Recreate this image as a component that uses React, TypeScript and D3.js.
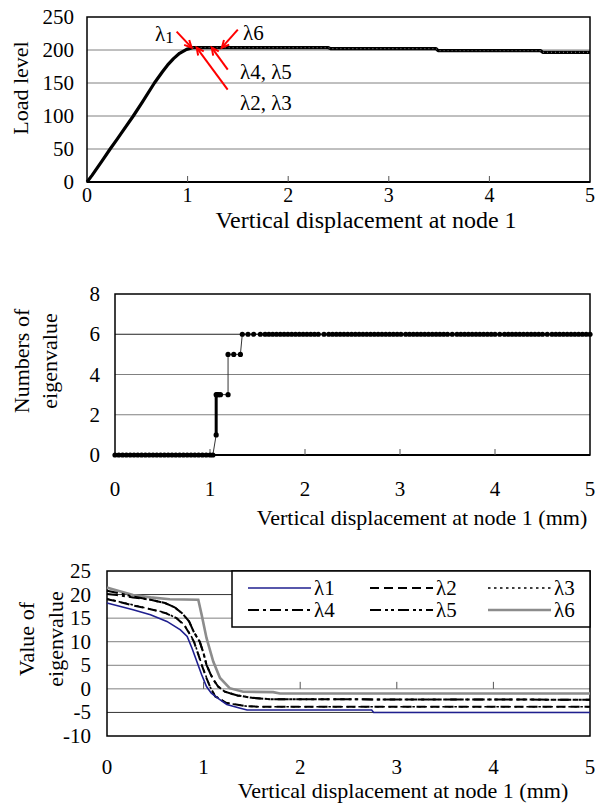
import React from 'react';
import * as d3 from 'd3';

const FONT = "'Liberation Serif', 'DejaVu Serif', 'Times New Roman', serif";

// ---------- Chart 1: load level vs displacement ----------
const loadX = [0, 0.05, 0.1, 0.15, 0.23, 0.3, 0.35, 0.46, 0.55, 0.67, 0.75, 0.8, 0.86, 0.92, 0.99, 1.05, 1.5, 2.0, 2.4, 2.42, 3.0, 3.47, 3.49, 4.0, 4.51, 4.53, 5.0];
const loadY = [0, 10, 21, 32, 50, 65, 76, 100, 121, 150, 167, 177, 187, 195, 201, 203.5, 203.5, 203.5, 203.5, 202, 202, 202, 199, 199, 199, 196.5, 196.5];
const loadTicksY = [0, 50, 100, 150, 200, 250];
const dispTicks = [0, 1, 2, 3, 4, 5];
// annotations: label, x (displacement) of arrow tip
const annLabels = ['λ1', 'λ2, λ3', 'λ4, λ5', 'λ6'];
const annTipX = [1.04, 1.09, 1.24, 1.34];

// ---------- Chart 2: number of negative eigenvalues ----------
const countX = [0, 0.04, 0.08, 0.12, 0.16, 0.2, 0.24, 0.28, 0.32, 0.36, 0.4, 0.44, 0.48, 0.52, 0.56, 0.6, 0.64, 0.68, 0.72, 0.76, 0.8, 0.84, 0.88, 0.92, 0.96, 1.0, 1.03, 1.065, 1.065, 1.075, 1.09, 1.11, 1.19, 1.19, 1.25, 1.32, 1.34, 1.4, 1.46, 1.53, 1.58, 1.62, 1.66, 1.7, 1.74, 1.78, 1.82, 1.86, 1.9, 1.94, 1.98, 2.02, 2.06, 2.1, 2.14, 2.2, 2.25, 2.29, 2.33, 2.37, 2.41, 2.45, 2.49, 2.53, 2.57, 2.61, 2.65, 2.69, 2.73, 2.77, 2.81, 2.85, 2.89, 2.93, 2.97, 3.01, 3.06, 3.1, 3.14, 3.18, 3.22, 3.26, 3.3, 3.34, 3.38, 3.42, 3.46, 3.5, 3.55, 3.6, 3.64, 3.68, 3.72, 3.76, 3.8, 3.84, 3.88, 3.92, 3.96, 4.0, 4.05, 4.1, 4.14, 4.18, 4.22, 4.26, 4.3, 4.34, 4.38, 4.42, 4.46, 4.5, 4.55, 4.6, 4.64, 4.68, 4.72, 4.76, 4.8, 4.84, 4.88, 4.92, 4.96, 5.0];
const countY = [0, 0, 0, 0, 0, 0, 0, 0, 0, 0, 0, 0, 0, 0, 0, 0, 0, 0, 0, 0, 0, 0, 0, 0, 0, 0, 0, 1, 3, 3, 3, 3, 3, 5, 5, 5, 6, 6, 6, 6, 6, 6, 6, 6, 6, 6, 6, 6, 6, 6, 6, 6, 6, 6, 6, 6, 6, 6, 6, 6, 6, 6, 6, 6, 6, 6, 6, 6, 6, 6, 6, 6, 6, 6, 6, 6, 6, 6, 6, 6, 6, 6, 6, 6, 6, 6, 6, 6, 6, 6, 6, 6, 6, 6, 6, 6, 6, 6, 6, 6, 6, 6, 6, 6, 6, 6, 6, 6, 6, 6, 6, 6, 6, 6, 6, 6, 6, 6, 6, 6, 6, 6, 6, 6];
const countTicksY = [0, 2, 4, 6, 8];

// ---------- Chart 3: eigenvalues ----------
const lam1X = [0, 0.1, 0.27, 0.45, 0.62, 0.76, 0.83, 0.88, 0.93, 0.98, 1.03, 1.08, 1.15, 1.24, 1.38, 1.45, 2.74, 2.76, 5];
const lam1Y = [18.2, 17.7, 16.8, 15.7, 14.3, 12.5, 11.1, 8.6, 5.8, 3.0, 0.5, -0.9, -2.0, -3.3, -4.1, -4.5, -4.5, -5.0, -5.0];
const lam2X = [0, 0.1, 0.27, 0.45, 0.6, 0.72, 0.8, 0.86, 0.9, 0.95, 0.98, 1.03, 1.07, 1.12, 1.24, 1.45, 1.6, 5];
const lam2Y = [19.0, 18.6, 17.7, 16.9, 16.1, 15.0, 13.5, 11.5, 10.0, 7.0, 5.1, 2.3, 0.3, -1.6, -3.0, -3.7, -3.8, -3.8];
const lam3X = [0, 0.1, 0.27, 0.45, 0.6, 0.72, 0.8, 0.86, 0.9, 0.95, 0.98, 1.03, 1.07, 1.12, 1.24, 1.45, 1.6, 5];
const lam3Y = [19.1, 18.6, 17.8, 16.9, 16.2, 15.0, 13.6, 11.6, 10.1, 7.1, 5.2, 2.4, 0.3, -1.5, -3.0, -3.7, -3.8, -3.8];
const lam4X = [0, 0.1, 0.27, 0.45, 0.6, 0.7, 0.78, 0.85, 0.9, 0.96, 1.0, 1.03, 1.07, 1.1, 1.15, 1.22, 1.35, 1.5, 1.7, 5];
const lam4Y = [20.1, 19.9, 19.4, 18.9, 18.2, 17.3, 16.0, 14.3, 12.0, 10.0, 7.5, 5.1, 3.2, 2.0, 0.5, -0.6, -1.4, -1.9, -2.2, -2.3];
const lam5X = [0, 0.1, 0.27, 0.45, 0.6, 0.7, 0.78, 0.85, 0.9, 0.96, 1.0, 1.03, 1.07, 1.1, 1.15, 1.22, 1.35, 1.5, 1.7, 5];
const lam5Y = [20.8, 20.4, 19.6, 18.9, 18.2, 17.3, 16.0, 14.3, 12.0, 10.0, 7.5, 5.1, 3.2, 2.0, 0.5, -0.6, -1.4, -1.9, -2.2, -2.3];
const lam6X = [0, 0.05, 0.15, 0.27, 0.45, 0.65, 0.945, 0.98, 1.03, 1.1, 1.17, 1.27, 1.41, 1.72, 1.79, 5];
const lam6Y = [21.5, 21.2, 20.6, 19.9, 19.4, 19.0, 18.9, 15.7, 10.8, 5.8, 2.3, 0.15, -0.6, -0.7, -1.0, -1.0];
const eigTicksY = [-10, -5, 0, 5, 10, 15, 20, 25];
const lamNames = ['λ1', 'λ2', 'λ3', 'λ4', 'λ5', 'λ6'];

const seriesStyle = [
  { stroke: '#1f1f8f', width: 1.6, dash: '' },
  { stroke: '#000', width: 2, dash: '9,5' },
  { stroke: '#000', width: 1.6, dash: '2.5,3.5' },
  { stroke: '#000', width: 2, dash: '11,4,3,4' },
  { stroke: '#000', width: 2, dash: '11,4,3,3,3,4' },
  { stroke: '#8c8c8c', width: 2.6, dash: '' },
];

const GRID = '#808080';
const txt: React.CSSProperties = { fontFamily: FONT };

function Arrow({ x1, y1, x2, y2 }: { x1: number; y1: number; x2: number; y2: number }) {
  const ang = Math.atan2(y2 - y1, x2 - x1);
  const L = 8;
  const a1 = ang + Math.PI - 0.45;
  const a2 = ang + Math.PI + 0.45;
  return (
    <g stroke="#ff0000" strokeWidth={2} fill="none">
      <line x1={x1} y1={y1} x2={x2} y2={y2} />
      <polyline
        points={`${x2 + L * Math.cos(a1)},${y2 + L * Math.sin(a1)} ${x2},${y2} ${x2 + L * Math.cos(a2)},${y2 + L * Math.sin(a2)}`}
      />
    </g>
  );
}

export default function App() {
  // chart 1
  const x1 = d3.scaleLinear().domain([0, 5]).range([87, 590]);
  const y1 = d3.scaleLinear().domain([0, 250]).range([182, 17]);
  const loadData = loadX.map((x, i) => [x, loadY[i]] as [number, number]);
  const line1 = d3.line<[number, number]>().x((d) => x1(d[0])).y((d) => y1(d[1]));

  // chart 2
  const x2 = d3.scaleLinear().domain([0, 5]).range([115, 590]);
  const y2 = d3.scaleLinear().domain([0, 8]).range([455, 294]);
  const countData = countX.map((x, i) => [x, countY[i]] as [number, number]);
  const line2 = d3.line<[number, number]>().x((d) => x2(d[0])).y((d) => y2(d[1]));

  // chart 3
  const x3 = d3.scaleLinear().domain([0, 5]).range([107, 590]);
  const y3 = d3.scaleLinear().domain([-10, 25]).range([736, 571]);
  const line3 = d3.line<[number, number]>().x((d) => x3(d[0])).y((d) => y3(d[1]));
  const lamX = [lam1X, lam2X, lam3X, lam4X, lam5X, lam6X];
  const lamY = [lam1Y, lam2Y, lam3Y, lam4Y, lam5Y, lam6Y];
  const lamData = lamX.map((xs, k) => xs.map((x, i) => [x, lamY[k][i]] as [number, number]));
  const drawOrder = [5, 4, 3, 2, 1, 0];

  const tipY = y1(203.5);
  const tails = [
    [-15, -16],
    [31, 42],
    [16, 22],
    [16, -18],
  ];

  const legendCols = [248, 370, 488];
  const legendRows = [588, 610];

  return (
    <svg width={595} height={803} style={{ position: 'absolute', left: 0, top: 0, background: '#fff' }}>
      <rect x={0} y={0} width={595} height={803} fill="#fff" />

      {/* ================= Chart 1 ================= */}
      <g style={txt}>
        {loadTicksY.filter((t) => t > 0 && t < 250).map((t) => (
          <line key={t} x1={x1(0)} x2={x1(5)} y1={y1(t)} y2={y1(t)} stroke={GRID} strokeWidth={1} />
        ))}
        <rect x={x1(0)} y={y1(250)} width={x1(5) - x1(0)} height={y1(0) - y1(250)} fill="none" stroke="#000" strokeWidth={1.5} />
        <line x1={x1(0)} x2={x1(5)} y1={y1(0)} y2={y1(0)} stroke="#000" strokeWidth={2} />
        {dispTicks.slice(1, 5).map((t) => (
          <line key={t} x1={x1(t)} x2={x1(t)} y1={y1(0)} y2={y1(0) - 6} stroke="#555" strokeWidth={1} />
        ))}
        {loadTicksY.map((t) => (
          <text key={t} style={txt} x={74} y={y1(t)} fontSize={21} textAnchor="end" dominantBaseline="central">{t}</text>
        ))}
        {dispTicks.map((t) => (
          <text key={t} style={txt} x={x1(t)} y={195} fontSize={20} textAnchor="middle" dominantBaseline="central">{t}</text>
        ))}
        <text style={txt} x={366} y={219.5} fontSize={24} textAnchor="middle" dominantBaseline="central">Vertical displacement at node 1</text>
        <text style={txt} transform="translate(20,88) rotate(-90)" fontSize={22} textAnchor="middle" dominantBaseline="central">Load level</text>
        <path d={line1(loadData) || ''} fill="none" stroke="#000" strokeWidth={3.2} strokeLinejoin="round" />
        <path d={line1(loadData.filter((d) => d[0] >= 1.05)) || ''} fill="none" stroke="#fff" strokeWidth={1} strokeDasharray="1,3" opacity={0.5} />

        {annTipX.map((tx, i) => {
          const px = x1(tx);
          const py = tipY;
          return <Arrow key={i} x1={px + tails[i][0]} y1={py + tails[i][1]} x2={px} y2={py} />;
        })}
        <text style={txt} x={155} y={34} fontSize={21} dominantBaseline="central">
          λ<tspan fontSize={17} dy={3}>1</tspan>
        </text>
        <text style={txt} x={243} y={33} fontSize={21} dominantBaseline="central">{annLabels[3]}</text>
        <text style={txt} x={240} y={72} fontSize={21} dominantBaseline="central">{annLabels[2]}</text>
        <text style={txt} x={240} y={103} fontSize={21} dominantBaseline="central">{annLabels[1]}</text>
      </g>

      {/* ================= Chart 2 ================= */}
      <g style={txt}>
        {countTicksY.filter((t) => t > 0 && t < 8).map((t) => (
          <line key={t} x1={x2(0)} x2={x2(5)} y1={y2(t)} y2={y2(t)} stroke={t === 6 ? '#222' : GRID} strokeWidth={1} />
        ))}
        <rect x={x2(0)} y={y2(8)} width={x2(5) - x2(0)} height={y2(0) - y2(8)} fill="none" stroke="#000" strokeWidth={1.5} />
        <line x1={x2(0)} x2={x2(5)} y1={y2(0)} y2={y2(0)} stroke="#000" strokeWidth={2} />
        {dispTicks.slice(1, 5).map((t) => (
          <line key={t} x1={x2(t)} x2={x2(t)} y1={y2(0)} y2={y2(0) - 6} stroke="#555" strokeWidth={1} />
        ))}
        {countTicksY.map((t) => (
          <text key={t} style={txt} x={100} y={y2(t)} fontSize={21} textAnchor="end" dominantBaseline="central">{t}</text>
        ))}
        {dispTicks.map((t) => (
          <text key={t} style={txt} x={x2(t)} y={489} fontSize={21} textAnchor="middle" dominantBaseline="central">{t}</text>
        ))}
        <text style={txt} x={422} y={517} fontSize={22} textAnchor="middle" dominantBaseline="central">Vertical displacement at node 1 (mm)</text>
        <text style={txt} transform="translate(21,361) rotate(-90)" fontSize={22} textAnchor="middle" dominantBaseline="central">Numbers of</text>
        <text style={txt} transform="translate(49,361) rotate(-90)" fontSize={22} textAnchor="middle" dominantBaseline="central">eigenvalue</text>
        <path d={line2(countData) || ''} fill="none" stroke="#333" strokeWidth={1} />
        <path d={line2(countData.filter((d) => d[0] <= 1.04)) || ''} fill="none" stroke="#000" strokeWidth={3} />
        <path d={line2(countData.filter((d) => d[0] >= 1.06 && d[0] <= 1.066)) || ''} fill="none" stroke="#000" strokeWidth={3} />
        {countData.map((d, i) => (
          <circle key={i} cx={x2(d[0])} cy={y2(d[1])} r={2.6} fill="#000" />
        ))}
      </g>

      {/* ================= Chart 3 ================= */}
      <g style={txt}>
        {eigTicksY.filter((t) => t > -10 && t < 25).map((t) => (
          <line key={t} x1={x3(0)} x2={x3(5)} y1={y3(t)} y2={y3(t)} stroke={t === -5 || t === 20 ? '#333' : GRID} strokeWidth={1} />
        ))}
        <rect x={x3(0)} y={y3(25)} width={x3(5) - x3(0)} height={y3(-10) - y3(25)} fill="none" stroke="#000" strokeWidth={1.5} />
        {dispTicks.slice(1, 5).map((t) => (
          <line key={t} x1={x3(t)} x2={x3(t)} y1={y3(0)} y2={y3(0) - 7} stroke="#555" strokeWidth={1} />
        ))}
        {eigTicksY.map((t) => (
          <text key={t} style={txt} x={91} y={y3(t)} fontSize={21} textAnchor="end" dominantBaseline="central">{t}</text>
        ))}
        {dispTicks.map((t) => (
          <text key={t} style={txt} x={x3(t)} y={767} fontSize={21} textAnchor="middle" dominantBaseline="central">{t}</text>
        ))}
        <text style={txt} x={403} y={790} fontSize={22} textAnchor="middle" dominantBaseline="central">Vertical displacement at node 1 (mm)</text>
        <text style={txt} transform="translate(26,639) rotate(-90)" fontSize={22} textAnchor="middle" dominantBaseline="central">Value of</text>
        <text style={txt} transform="translate(55,639) rotate(-90)" fontSize={22} textAnchor="middle" dominantBaseline="central">eigenvalue</text>
        {drawOrder.map((k) => (
          <path
            key={k}
            d={line3(lamData[k]) || ''}
            fill="none"
            stroke={seriesStyle[k].stroke}
            strokeWidth={seriesStyle[k].width}
            strokeDasharray={seriesStyle[k].dash || undefined}
          />
        ))}
        <rect x={232} y={571} width={358} height={56} fill="#fff" stroke="#000" strokeWidth={1.5} />
        {lamNames.map((name, k) => {
          const col = k % 3;
          const row = Math.floor(k / 3);
          const lx = legendCols[col];
          const ly = legendRows[row];
          const st = seriesStyle[k];
          return (
            <g key={name}>
              <line x1={lx} x2={lx + 63} y1={ly} y2={ly} stroke={st.stroke} strokeWidth={st.width} strokeDasharray={st.dash || undefined} />
              <text style={txt} x={lx + 66} y={ly} fontSize={21} dominantBaseline="central">{name}</text>
            </g>
          );
        })}
      </g>
    </svg>
  );
}
